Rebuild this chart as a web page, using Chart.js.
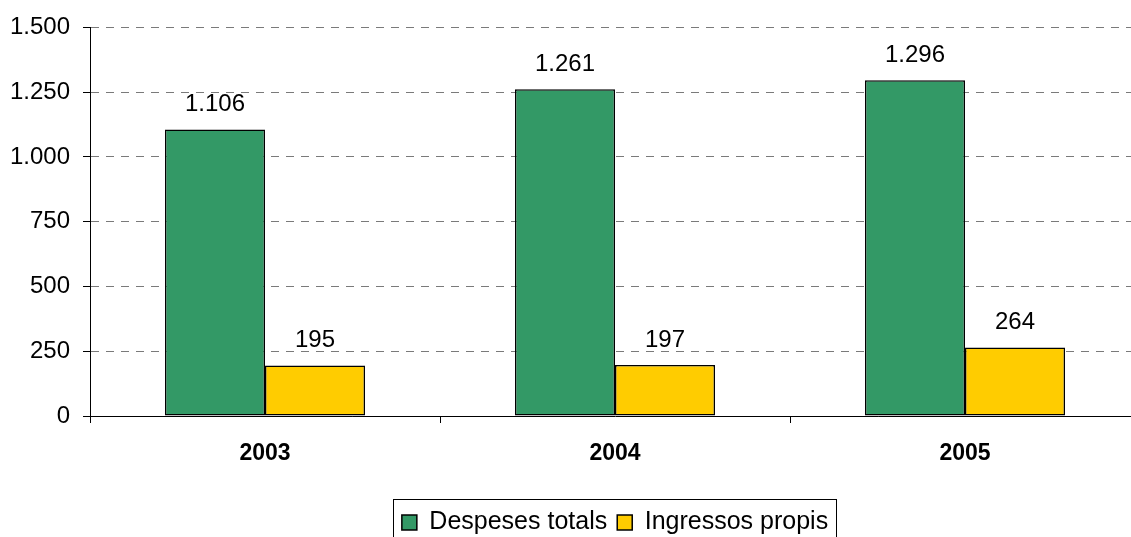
<!DOCTYPE html>
<html>
<head>
<meta charset="utf-8">
<script src="https://cdn.jsdelivr.net/npm/chart.js@4/dist/chart.umd.min.js"></script>
<style>
  html, body { margin: 0; padding: 0; background: #fff; overflow: hidden; width: 1131px; height: 537px; }
  #wrap { position: relative; width: 1150px; height: 560px; }
</style>
</head>
<body>
<div id="wrap"><canvas id="c"></canvas></div>
<script>
const categories = ['2003', '2004', '2005'];
const despesesTotals = [1106, 1261, 1296];
const ingressosPropis = [195, 197, 264];
const seriesNames = ['Despeses totals', 'Ingressos propis'];
const yMin = 0, yMax = 1500, yStep = 250;

const FONT = "'Liberation Sans', Arial, Helvetica, sans-serif";
function fmt(v) { return String(v).replace(/\B(?=(\d{3})+(?!\d))/g, '.'); }

const dataLabels = {
  id: 'dataLabels',
  afterDatasetsDraw(chart) {
    const ctx = chart.ctx;
    ctx.save();
    ctx.font = '24px ' + FONT;
    ctx.fillStyle = '#000';
    ctx.textAlign = 'center';
    ctx.textBaseline = 'middle';
    chart.data.datasets.forEach((ds, di) => {
      chart.getDatasetMeta(di).data.forEach((bar, i) => {
        ctx.fillText(fmt(ds.data[i]), bar.x, bar.y - 25);
      });
    });
    ctx.restore();
  }
};

const legendBorder = {
  id: 'legendBorder',
  afterDraw(chart) {
    const hb = chart.legend && chart.legend.legendHitBoxes;
    if (!hb || !hb.length) return;
    const ctx = chart.ctx;
    const left = hb[0].left - 9;
    const last = hb[hb.length - 1];
    const right = last.left + last.width + 8;
    const top = hb[0].top - 11;
    ctx.save();
    ctx.strokeStyle = '#000';
    ctx.lineWidth = 1;
    ctx.strokeRect(Math.round(left) + 0.5, Math.round(top) + 0.5, Math.round(right - left), 60);
    ctx.restore();
  }
};

new Chart(document.getElementById('c'), {
  type: 'bar',
  data: {
    labels: categories,
    datasets: [
      { label: seriesNames[0], data: despesesTotals, backgroundColor: '#339966', borderColor: '#000', borderWidth: 1.5, borderSkipped: false },
      { label: seriesNames[1], data: ingressosPropis, backgroundColor: '#FFCC00', borderColor: '#000', borderWidth: 1.5, borderSkipped: false }
    ]
  },
  options: {
    responsive: true,
    maintainAspectRatio: false,
    devicePixelRatio: 1,
    animation: false,
    layout: { padding: { top: 22, right: 10, bottom: 15, left: 0 } },
    datasets: { bar: { categoryPercentage: 200 / 350, barPercentage: 1 } },
    scales: {
      x: {
        offset: true,
        grid: { offset: true, drawOnChartArea: false, drawTicks: true, tickLength: 7, tickColor: '#000', tickWidth: 1 },
        border: { display: true, color: '#000', width: 1 },
        ticks: { color: '#000', padding: 17, font: { family: FONT, size: 23, weight: 'bold' }, maxRotation: 0 },
        afterFit(scale) { scale.height = 84; }
      },
      y: {
        min: yMin, max: yMax,
        ticks: { stepSize: yStep, color: '#000', padding: 13, font: { family: FONT, size: 24 }, callback: v => fmt(v) },
        grid: { color: '#7a7a7a', lineWidth: 1, tickLength: 7, tickColor: '#000', tickWidth: 1, tickBorderDash: [] },
        border: { display: true, color: '#000', width: 1, dash: [8, 7] },
        afterFit(scale) { scale.width = 90; }
      }
    },
    plugins: {
      tooltip: { enabled: false },
      legend: {
        position: 'bottom',
        fullSize: false,
        labels: { color: '#000', font: { family: FONT, size: 25 }, boxWidth: 15, boxHeight: 15, padding: 10 }
      }
    }
  },
  plugins: [dataLabels, legendBorder]
});
</script>
</body>
</html>
